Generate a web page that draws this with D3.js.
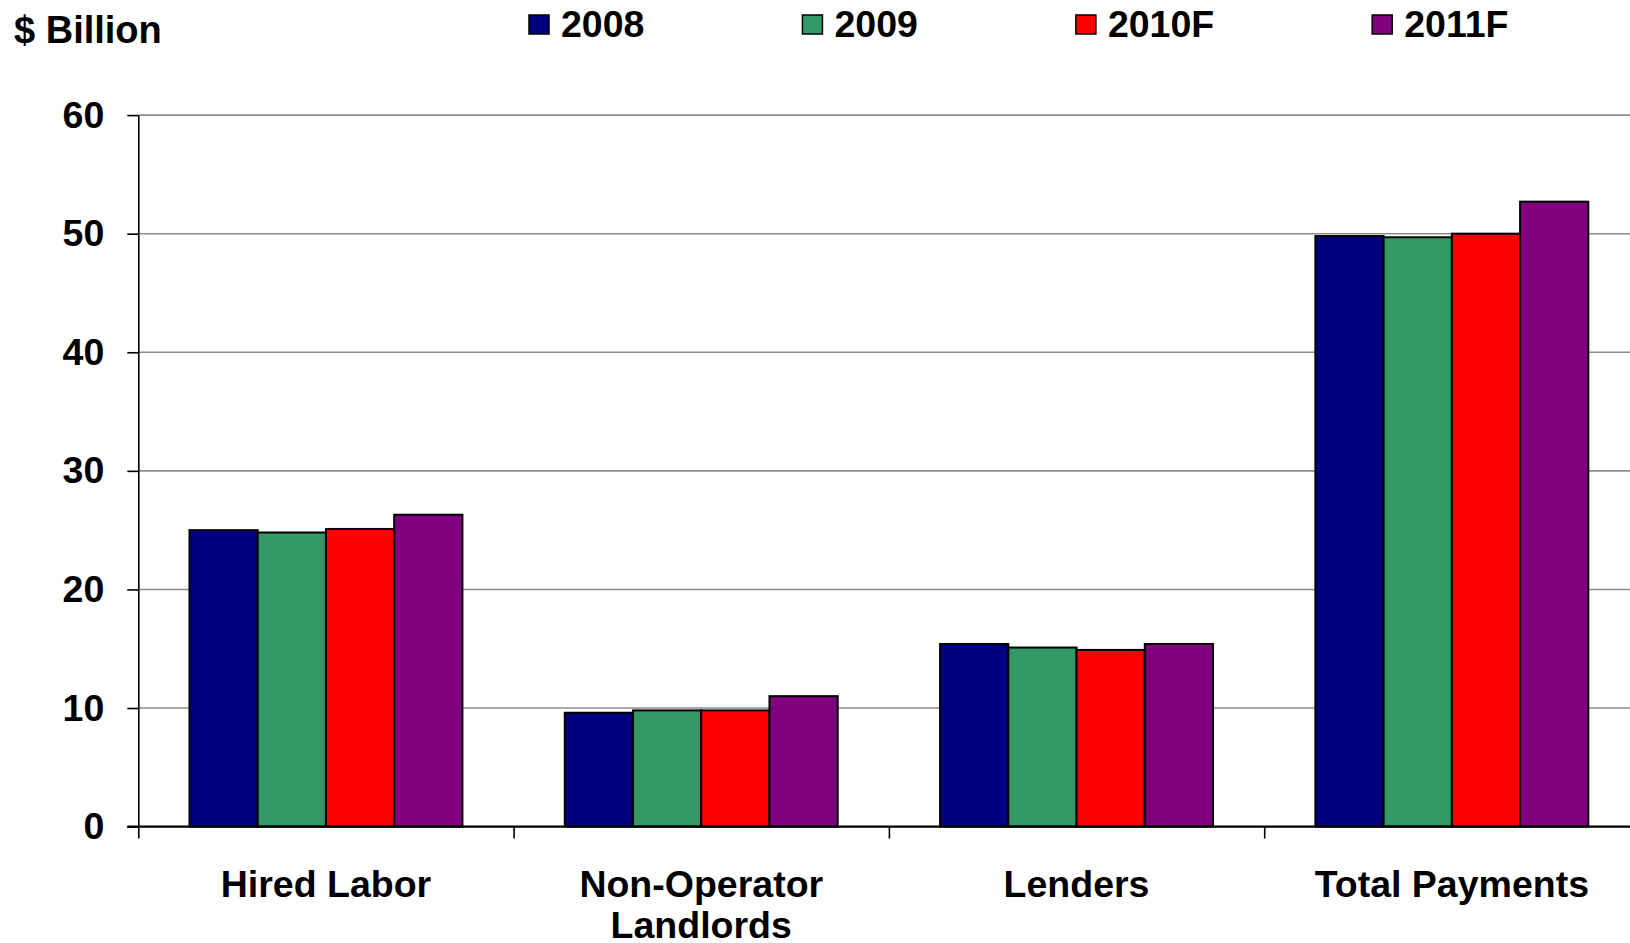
<!DOCTYPE html>
<html>
<head>
<meta charset="utf-8">
<script src="https://cdn.jsdelivr.net/npm/d3@7"></script>
<style>
  html, body { margin: 0; padding: 0; background: #fff; overflow: hidden; }
  svg { display: block; font-family: "Liberation Sans", Arial, sans-serif; font-weight: bold; }
</style>
</head>
<body>
<svg id="chart" width="1630" height="943"></svg>
<script>
// Farm payments to stakeholders, $ billion
const categories = ["Hired Labor", "Non-Operator Landlords", "Lenders", "Total Payments"];
const categoryLines = [["Hired Labor"], ["Non-Operator", "Landlords"], ["Lenders"], ["Total Payments"]];
const seriesNames = ["2008", "2009", "2010F", "2011F"];
const values2008  = [25.0, 9.6, 15.4, 49.8];
const values2009  = [24.8, 9.8, 15.1, 49.7];
const values2010F = [25.1, 9.8, 14.9, 50.0];
const values2011F = [26.3, 11.0, 15.4, 52.7];
const seriesColors = ["#000080", "#339966", "#FF0000", "#800080"];
const yTicks = [0, 10, 20, 30, 40, 50, 60];
const unitLabel = "$ Billion";

const seriesValues = [values2008, values2009, values2010F, values2011F];

const svg = d3.select("#chart");
const W = 1630;
const FONT = 37.5;

// Plot frame (extends a little past the right edge of the page)
const left = 138.3, right = 1639.5, yTop = 115.1, yBottom = 826.6;

const x0 = d3.scaleBand().domain(categories).range([left, right]).paddingInner(0).paddingOuter(0);
const bw = x0.bandwidth();
const barW = bw / 5.5;                 // 150% gap between clusters
const x1 = d3.scaleBand().domain(seriesNames)
  .range([(bw - 4 * barW) / 2, (bw + 4 * barW) / 2]).padding(0);
const y = d3.scaleLinear().domain([0, 60]).range([yBottom, yTop]);
const colour = d3.scaleOrdinal().domain(seriesNames).range(seriesColors);

// Horizontal gridlines
svg.append("g").selectAll("line")
  .data(yTicks.filter(d => d > 0))
  .join("line")
  .attr("x1", left).attr("x2", W)
  .attr("y1", d => y(d)).attr("y2", d => y(d))
  .attr("stroke", "#8c8c8c").attr("stroke-width", 1.6);

// Bars
const rows = categories.map((c, i) => ({
  category: c,
  bars: seriesNames.map((s, j) => ({ series: s, value: seriesValues[j][i] }))
}));

svg.append("g").selectAll("g")
  .data(rows)
  .join("g")
  .attr("transform", d => `translate(${x0(d.category)},0)`)
  .selectAll("rect")
  .data(d => d.bars)
  .join("rect")
  .attr("x", d => x1(d.series))
  .attr("width", x1.bandwidth())
  .attr("y", d => y(d.value))
  .attr("height", d => y(0) - y(d.value))
  .attr("fill", d => colour(d.series))
  .attr("stroke", "#000")
  .attr("stroke-width", 2);

// Y axis
const yAxis = d3.axisLeft(y).tickValues(yTicks).tickSize(11).tickSizeOuter(0).tickPadding(23);
const gy = svg.append("g").attr("transform", `translate(${left},0)`).call(yAxis);
gy.select(".domain").attr("stroke", "#000").attr("stroke-width", 1.6);
gy.selectAll(".tick line").attr("stroke", "#000").attr("stroke-width", 1.6);
gy.selectAll(".tick text")
  .attr("font-family", "'Liberation Sans', Arial, sans-serif")
  .attr("font-weight", "bold").attr("font-size", FONT).attr("fill", "#000");

// X axis: baseline with tick marks at category boundaries
const xb = d3.scaleLinear().domain([0, categories.length]).range([left, right]);
const xAxis = d3.axisBottom(xb).tickValues(d3.range(categories.length + 1))
  .tickSize(12).tickSizeOuter(0).tickFormat("");
const gx = svg.append("g").attr("transform", `translate(0,${y(0)})`).call(xAxis);
gx.select(".domain").remove();
gx.selectAll(".tick line").attr("stroke", "#000").attr("stroke-width", 1.6);
svg.append("line")
  .attr("x1", left - 11).attr("x2", W)
  .attr("y1", y(0)).attr("y2", y(0))
  .attr("stroke", "#000").attr("stroke-width", 2.2);

// Category labels
const labels = svg.append("g").selectAll("text")
  .data(categories)
  .join("text")
  .attr("text-anchor", "middle")
  .attr("font-size", FONT)
  .attr("fill", "#000")
  .attr("x", d => x0(d) + bw / 2)
  .attr("y", 897);
labels.selectAll("tspan")
  .data((d, i) => categoryLines[i])
  .join("tspan")
  .attr("x", function () { return d3.select(this.parentNode).attr("x"); })
  .attr("dy", (d, i) => i === 0 ? 0 : 41)
  .text(d => d);

// Unit label
svg.append("text")
  .attr("x", 14).attr("y", 42.5)
  .attr("font-size", 38).attr("fill", "#000")
  .text(unitLabel);

// Legend
const legend = svg.append("g");
let lx = 529;
seriesNames.forEach((s, i) => {
  const item = legend.append("g").attr("transform", `translate(${lx},0)`);
  item.append("rect")
    .attr("x", 0).attr("y", 15).attr("width", 20).attr("height", 19)
    .attr("fill", colour(s)).attr("stroke", "#000").attr("stroke-width", 1.5);
  const t = item.append("text")
    .attr("x", 32).attr("y", 36.5)
    .attr("font-size", FONT).attr("fill", "#000")
    .text(s);
  lx += 32 + t.node().getComputedTextLength() + 158;
});
</script>
</body>
</html>
